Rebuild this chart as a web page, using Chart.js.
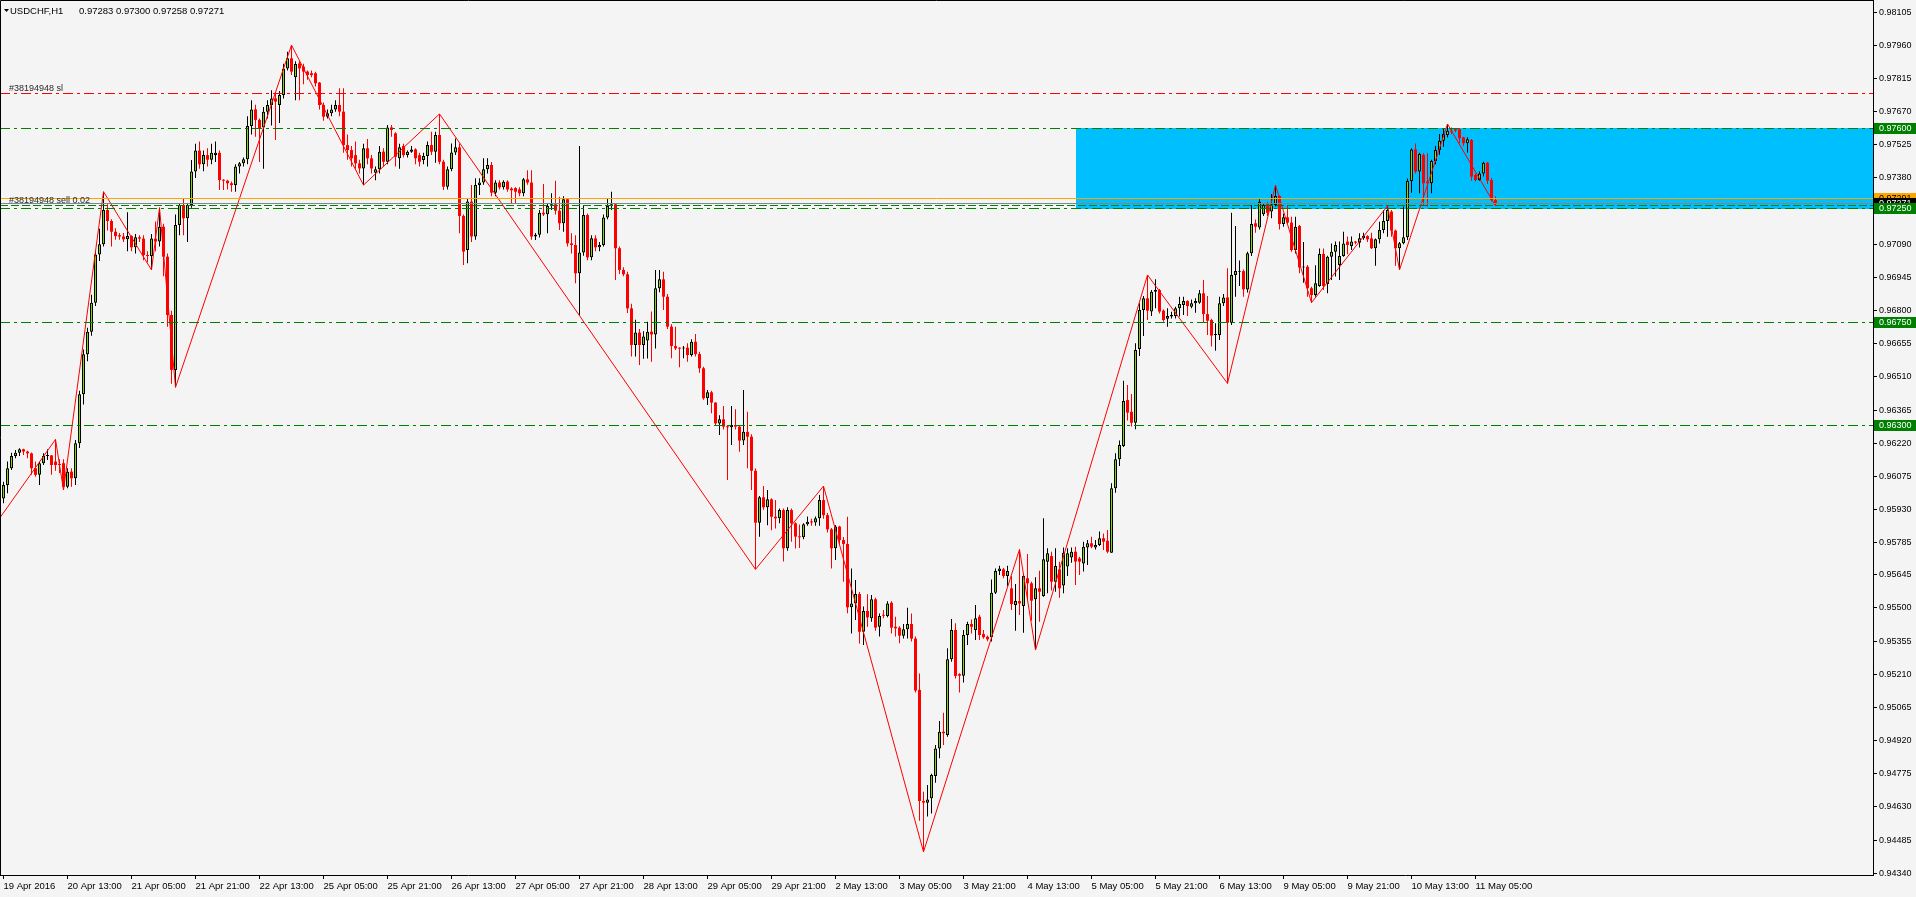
<!DOCTYPE html>
<html><head><meta charset="utf-8">
<script src="https://cdn.jsdelivr.net/npm/chart.js@4.4.0/dist/chart.umd.min.js"></script>
<style>html,body{margin:0;padding:0;background:#f4f4f4;overflow:hidden}canvas{display:block}</style>
</head><body>
<canvas id="c" width="1916" height="897" style="width:1916px;height:897px"></canvas>
<script>
const symbolTitle = 'USDCHF,H1';
const lastBarOHLC = '0.97283 0.97300 0.97258 0.97271';

const openPrices = [
0.95979,0.96038,0.96111,0.96165,0.96179,0.96194,0.96184,0.96176,0.96111,0.96082,
0.96133,0.96165,0.96167,0.96140,0.96130,0.96133,0.96030,0.96096,0.96067,0.96220,
0.96434,0.96609,0.96708,0.96835,0.97046,0.97090,0.97240,0.97192,0.97145,0.97130,
0.97124,0.97112,0.97126,0.97077,0.97121,0.97115,0.97043,0.97039,0.97115,0.97102,
0.97167,0.97036,0.96781,0.96541,0.97175,0.97262,0.97204,0.97262,0.97408,0.97500,
0.97440,0.97480,0.97460,0.97480,0.97490,0.97371,0.97368,0.97357,0.97349,0.97430,
0.97444,0.97462,0.97607,0.97680,0.97634,0.97601,0.97670,0.97699,0.97728,0.97699,
0.97743,0.97859,0.97903,0.97820,0.97881,0.97867,0.97845,0.97838,0.97838,0.97797,
0.97699,0.97648,0.97663,0.97680,0.97699,0.97670,0.97524,0.97502,0.97480,0.97444,
0.97422,0.97510,0.97466,0.97403,0.97418,0.97495,0.97451,0.97601,0.97575,0.97466,
0.97520,0.97480,0.97495,0.97505,0.97480,0.97459,0.97476,0.97524,0.97495,0.97568,
0.97451,0.97342,0.97418,0.97491,0.97514,0.97214,0.97065,0.97277,0.97124,0.97349,
0.97360,0.97418,0.97437,0.97316,0.97360,0.97339,0.97364,0.97334,0.97336,0.97330,
0.97313,0.97374,0.97360,0.97124,0.97132,0.97228,0.97221,0.97258,0.97265,0.97237,
0.97182,0.97287,0.97094,0.97087,0.96963,0.97054,0.97218,0.97033,0.97116,0.97077,
0.97087,0.97207,0.97258,0.97265,0.97073,0.96978,0.96959,0.96810,0.96650,0.96704,
0.96650,0.96669,0.96708,0.96696,0.96898,0.96937,0.96861,0.96730,0.96645,0.96635,
0.96634,0.96638,0.96606,0.96664,0.96610,0.96548,0.96417,0.96443,0.96398,0.96307,
0.96325,0.96293,0.96290,0.96300,0.96293,0.96232,0.96270,0.96249,0.96100,0.95873,
0.95984,0.95940,0.95975,0.95899,0.95892,0.95928,0.95761,0.95928,0.95870,0.95812,
0.95809,0.95866,0.95877,0.95874,0.95892,0.95972,0.95906,0.95844,0.95761,0.95856,
0.95797,0.95780,0.95503,0.95520,0.95561,0.95396,0.95487,0.95455,0.95538,0.95418,
0.95469,0.95465,0.95523,0.95418,0.95414,0.95379,0.95407,0.95430,0.95366,0.95142,
0.94656,0.94649,0.94668,0.94765,0.94886,0.94959,0.94945,0.95276,0.95404,0.95211,
0.95204,0.95382,0.95430,0.95404,0.95462,0.95386,0.95374,0.95372,0.95567,0.95662,
0.95669,0.95640,0.95586,0.95513,0.95530,0.95509,0.95630,0.95608,0.95538,0.95586,
0.95552,0.95702,0.95727,0.95615,0.95669,0.95598,0.95681,0.95721,0.95746,0.95717,
0.95695,0.95765,0.95783,0.95765,0.95775,0.95805,0.95794,0.95742,0.96023,0.96150,
0.96208,0.96409,0.96358,0.96310,0.96632,0.96803,0.96854,0.96796,0.96883,0.96890,
0.96800,0.96765,0.96774,0.96777,0.96810,0.96825,0.96842,0.96817,0.96832,0.96835,
0.96876,0.96785,0.96759,0.96694,0.96694,0.96832,0.96858,0.96747,0.96956,0.96970,
0.96973,0.96893,0.97051,0.97182,0.97164,0.97221,0.97269,0.97233,0.97262,0.97301,
0.97179,0.97208,0.97185,0.97065,0.97170,0.96989,0.96992,0.96898,0.96868,0.96908,
0.97048,0.96917,0.97036,0.97058,0.97000,0.97039,0.97102,0.97083,0.97102,0.97097,
0.97116,0.97126,0.97116,0.97073,0.97112,0.97153,0.97192,0.97233,0.97150,0.97073,
0.97095,0.97121,0.97367,0.97505,0.97408,0.97481,0.97364,0.97357,0.97454,0.97502,
0.97543,0.97568,0.97587,0.97593,0.97593,0.97558,0.97532,0.97546,0.97393,0.97371,
0.97400,0.97447,0.97371,0.97283];

const highPrices = [
0.96052,0.96140,0.96179,0.96191,0.96198,0.96196,0.96188,0.96180,0.96140,0.96140,
0.96176,0.96194,0.96169,0.96237,0.96150,0.96150,0.96111,0.96111,0.96235,0.96450,
0.96630,0.96725,0.96870,0.97063,0.97158,0.97320,0.97265,0.97200,0.97160,0.97140,
0.97140,0.97230,0.97130,0.97135,0.97130,0.97130,0.97060,0.97135,0.97190,0.97250,
0.97180,0.97050,0.96800,0.97220,0.97270,0.97290,0.97270,0.97459,0.97530,0.97540,
0.97500,0.97510,0.97530,0.97540,0.97500,0.97375,0.97372,0.97365,0.97440,0.97450,
0.97470,0.97650,0.97720,0.97700,0.97640,0.97690,0.97720,0.97764,0.97750,0.97760,
0.97880,0.97932,0.97961,0.97890,0.97890,0.97880,0.97850,0.97850,0.97845,0.97800,
0.97710,0.97680,0.97700,0.97720,0.97772,0.97772,0.97570,0.97520,0.97540,0.97460,
0.97530,0.97550,0.97480,0.97430,0.97520,0.97510,0.97612,0.97612,0.97580,0.97530,
0.97530,0.97500,0.97520,0.97510,0.97490,0.97490,0.97540,0.97582,0.97582,0.97660,
0.97460,0.97430,0.97531,0.97553,0.97531,0.97220,0.97290,0.97349,0.97379,0.97379,
0.97466,0.97466,0.97450,0.97370,0.97370,0.97370,0.97370,0.97340,0.97340,0.97340,
0.97380,0.97414,0.97414,0.97140,0.97240,0.97354,0.97270,0.97313,0.97368,0.97298,
0.97300,0.97290,0.97138,0.97130,0.97520,0.97262,0.97225,0.97130,0.97130,0.97100,
0.97220,0.97291,0.97320,0.97270,0.97080,0.96990,0.96970,0.96830,0.96760,0.96720,
0.96710,0.96752,0.96796,0.96978,0.96978,0.96970,0.96873,0.96740,0.96730,0.96640,
0.96645,0.96657,0.96675,0.96698,0.96620,0.96555,0.96453,0.96450,0.96400,0.96343,
0.96383,0.96300,0.96383,0.96369,0.96300,0.96453,0.96358,0.96260,0.96110,0.95990,
0.96033,0.96016,0.95980,0.95972,0.95935,0.95935,0.95940,0.95935,0.95875,0.95865,
0.95870,0.95900,0.95890,0.95900,0.95994,0.96033,0.95915,0.95850,0.95863,0.95860,
0.95810,0.95899,0.95673,0.95622,0.95570,0.95506,0.95560,0.95557,0.95545,0.95476,
0.95491,0.95530,0.95530,0.95462,0.95420,0.95430,0.95501,0.95476,0.95375,0.95214,
0.94697,0.94726,0.94775,0.94901,0.95006,0.95042,0.95324,0.95452,0.95433,0.95215,
0.95404,0.95440,0.95450,0.95513,0.95470,0.95404,0.95380,0.95625,0.95673,0.95685,
0.95675,0.95685,0.95640,0.95605,0.95756,0.95650,0.95736,0.95615,0.95634,0.95663,
0.95892,0.95761,0.95746,0.95761,0.95702,0.95764,0.95761,0.95765,0.95768,0.95724,
0.95790,0.95797,0.95812,0.95797,0.95834,0.95826,0.95841,0.96045,0.96176,0.96232,
0.96494,0.96475,0.96436,0.96657,0.96832,0.96864,0.96956,0.96890,0.96937,0.96895,
0.96805,0.96810,0.96795,0.96817,0.96861,0.96861,0.96845,0.96849,0.96854,0.96890,
0.96934,0.96864,0.96765,0.96745,0.96861,0.96873,0.96985,0.97228,0.97170,0.97019,
0.96980,0.97058,0.97262,0.97199,0.97287,0.97269,0.97275,0.97310,0.97349,0.97305,
0.97225,0.97262,0.97211,0.97211,0.97175,0.97100,0.97000,0.96905,0.96999,0.97072,
0.97072,0.97040,0.97094,0.97102,0.97102,0.97145,0.97124,0.97124,0.97105,0.97138,
0.97141,0.97130,0.97141,0.97115,0.97189,0.97240,0.97258,0.97240,0.97155,0.97100,
0.97255,0.97378,0.97510,0.97531,0.97490,0.97488,0.97488,0.97460,0.97520,0.97572,
0.97597,0.97616,0.97601,0.97598,0.97598,0.97560,0.97558,0.97550,0.97400,0.97410,
0.97451,0.97450,0.97380,0.97300];

const lowPrices = [
0.95958,0.96002,0.96103,0.96155,0.96165,0.96169,0.96155,0.96082,0.96074,0.96038,
0.96125,0.96147,0.96082,0.96100,0.96090,0.96016,0.96023,0.96030,0.96038,0.96199,
0.96390,0.96579,0.96690,0.96820,0.97017,0.97080,0.97150,0.97080,0.97110,0.97110,
0.97100,0.97060,0.97060,0.97050,0.97100,0.97020,0.97010,0.96978,0.97060,0.97080,
0.96950,0.96730,0.96480,0.96465,0.97130,0.97130,0.97100,0.97250,0.97380,0.97420,
0.97410,0.97430,0.97440,0.97450,0.97327,0.97327,0.97330,0.97320,0.97320,0.97400,
0.97430,0.97440,0.97570,0.97560,0.97450,0.97420,0.97640,0.97610,0.97546,0.97620,
0.97728,0.97850,0.97830,0.97720,0.97720,0.97790,0.97810,0.97820,0.97780,0.97680,
0.97630,0.97640,0.97650,0.97670,0.97650,0.97490,0.97460,0.97430,0.97420,0.97400,
0.97349,0.97440,0.97400,0.97370,0.97400,0.97430,0.97440,0.97560,0.97430,0.97420,
0.97470,0.97470,0.97490,0.97440,0.97430,0.97440,0.97430,0.97480,0.97447,0.97440,
0.97327,0.97330,0.97410,0.97480,0.97138,0.97000,0.97007,0.97100,0.97110,0.97306,
0.97350,0.97400,0.97300,0.97300,0.97330,0.97330,0.97320,0.97267,0.97267,0.97300,
0.97300,0.97350,0.97110,0.97109,0.97120,0.97214,0.97138,0.97240,0.97220,0.97153,
0.97145,0.97080,0.97050,0.96920,0.96781,0.97040,0.97020,0.97020,0.97060,0.97060,
0.97080,0.97200,0.97240,0.96934,0.96960,0.96950,0.96790,0.96599,0.96600,0.96562,
0.96590,0.96591,0.96577,0.96635,0.96880,0.96803,0.96720,0.96592,0.96628,0.96552,
0.96592,0.96577,0.96600,0.96600,0.96529,0.96410,0.96388,0.96351,0.96300,0.96256,
0.96280,0.96060,0.96213,0.96280,0.96183,0.96213,0.96111,0.96016,0.95669,0.95812,
0.95930,0.95862,0.95840,0.95848,0.95870,0.95703,0.95750,0.95790,0.95760,0.95762,
0.95800,0.95860,0.95860,0.95860,0.95860,0.95890,0.95830,0.95673,0.95710,0.95780,
0.95615,0.95477,0.95389,0.95447,0.95345,0.95338,0.95418,0.95440,0.95400,0.95375,
0.95455,0.95460,0.95389,0.95375,0.95346,0.95367,0.95367,0.95353,0.95130,0.94570,
0.94434,0.94588,0.94602,0.94736,0.94843,0.94901,0.94937,0.95265,0.95192,0.95130,
0.95174,0.95338,0.95389,0.95360,0.95360,0.95366,0.95355,0.95353,0.95561,0.95644,
0.95630,0.95596,0.95491,0.95401,0.95469,0.95392,0.95535,0.95444,0.95316,0.95440,
0.95549,0.95564,0.95576,0.95571,0.95545,0.95564,0.95640,0.95698,0.95601,0.95644,
0.95659,0.95688,0.95761,0.95756,0.95771,0.95754,0.95739,0.95742,0.96004,0.96121,
0.96204,0.96320,0.96293,0.96281,0.96602,0.96689,0.96759,0.96777,0.96810,0.96788,
0.96752,0.96730,0.96766,0.96766,0.96774,0.96781,0.96777,0.96810,0.96791,0.96830,
0.96748,0.96693,0.96643,0.96625,0.96672,0.96820,0.96482,0.96737,0.96861,0.96908,
0.96861,0.96879,0.97039,0.97141,0.97155,0.97214,0.97214,0.97204,0.97255,0.97155,
0.97167,0.97176,0.97058,0.97050,0.96963,0.96922,0.96861,0.96835,0.96861,0.96905,
0.96890,0.96876,0.96934,0.96949,0.96934,0.97036,0.97047,0.97065,0.97090,0.97076,
0.97110,0.97100,0.97069,0.96996,0.97094,0.97138,0.97123,0.97123,0.96996,0.96978,
0.97090,0.97109,0.97316,0.97400,0.97313,0.97262,0.97255,0.97313,0.97440,0.97480,
0.97517,0.97557,0.97572,0.97580,0.97532,0.97520,0.97490,0.97368,0.97365,0.97368,
0.97386,0.97354,0.97277,0.97258];

const closePrices = [
0.96038,0.96111,0.96165,0.96179,0.96194,0.96184,0.96176,0.96111,0.96082,0.96133,
0.96165,0.96167,0.96125,0.96125,0.96125,0.96030,0.96096,0.96067,0.96220,0.96434,
0.96609,0.96708,0.96835,0.97046,0.97090,0.97240,0.97192,0.97145,0.97126,0.97124,
0.97112,0.97126,0.97077,0.97121,0.97115,0.97043,0.97039,0.97115,0.97102,0.97167,
0.97036,0.96781,0.96541,0.97175,0.97262,0.97204,0.97262,0.97408,0.97500,0.97440,
0.97480,0.97460,0.97490,0.97490,0.97371,0.97368,0.97357,0.97349,0.97430,0.97444,
0.97462,0.97607,0.97680,0.97634,0.97597,0.97670,0.97699,0.97728,0.97714,0.97743,
0.97859,0.97903,0.97845,0.97878,0.97859,0.97845,0.97830,0.97830,0.97794,0.97699,
0.97648,0.97663,0.97680,0.97699,0.97670,0.97524,0.97502,0.97466,0.97444,0.97422,
0.97510,0.97466,0.97422,0.97418,0.97495,0.97451,0.97601,0.97590,0.97473,0.97514,
0.97480,0.97495,0.97505,0.97466,0.97451,0.97476,0.97524,0.97495,0.97568,0.97451,
0.97342,0.97418,0.97491,0.97514,0.97214,0.97058,0.97277,0.97124,0.97349,0.97360,
0.97418,0.97437,0.97316,0.97360,0.97339,0.97364,0.97330,0.97326,0.97320,0.97313,
0.97374,0.97360,0.97124,0.97132,0.97228,0.97221,0.97258,0.97265,0.97237,0.97182,
0.97287,0.97094,0.97087,0.96963,0.97054,0.97218,0.97033,0.97116,0.97077,0.97087,
0.97207,0.97258,0.97265,0.97073,0.96978,0.96959,0.96810,0.96650,0.96704,0.96650,
0.96687,0.96708,0.96696,0.96898,0.96937,0.96861,0.96730,0.96645,0.96635,0.96634,
0.96638,0.96606,0.96664,0.96610,0.96548,0.96417,0.96443,0.96398,0.96307,0.96325,
0.96293,0.96290,0.96300,0.96293,0.96232,0.96270,0.96249,0.96100,0.95873,0.95984,
0.95940,0.95975,0.95899,0.95892,0.95928,0.95761,0.95928,0.95870,0.95812,0.95809,
0.95866,0.95877,0.95874,0.95892,0.95972,0.95906,0.95844,0.95761,0.95856,0.95797,
0.95780,0.95503,0.95520,0.95561,0.95396,0.95487,0.95459,0.95538,0.95414,0.95465,
0.95466,0.95520,0.95414,0.95411,0.95379,0.95407,0.95430,0.95366,0.95139,0.94656,
0.94649,0.94663,0.94770,0.94886,0.94959,0.94952,0.95276,0.95404,0.95203,0.95204,
0.95382,0.95430,0.95418,0.95455,0.95382,0.95372,0.95363,0.95567,0.95662,0.95673,
0.95640,0.95662,0.95517,0.95531,0.95520,0.95640,0.95608,0.95532,0.95586,0.95571,
0.95713,0.95739,0.95615,0.95684,0.95586,0.95742,0.95739,0.95746,0.95703,0.95703,
0.95768,0.95783,0.95768,0.95775,0.95805,0.95790,0.95746,0.96023,0.96150,0.96213,
0.96405,0.96354,0.96310,0.96628,0.96803,0.96854,0.96800,0.96883,0.96890,0.96796,
0.96759,0.96777,0.96781,0.96810,0.96829,0.96842,0.96820,0.96832,0.96842,0.96876,
0.96785,0.96756,0.96691,0.96698,0.96832,0.96858,0.96747,0.96956,0.96973,0.96973,
0.96893,0.97051,0.97179,0.97167,0.97276,0.97262,0.97228,0.97265,0.97301,0.97179,
0.97208,0.97185,0.97065,0.97167,0.96989,0.96992,0.96898,0.96868,0.96920,0.97048,
0.96908,0.97036,0.97058,0.97087,0.97039,0.97094,0.97087,0.97102,0.97097,0.97116,
0.97126,0.97112,0.97073,0.97112,0.97153,0.97192,0.97240,0.97150,0.97073,0.97095,
0.97121,0.97367,0.97505,0.97408,0.97485,0.97357,0.97357,0.97454,0.97502,0.97543,
0.97572,0.97587,0.97583,0.97587,0.97553,0.97532,0.97549,0.97386,0.97371,0.97400,
0.97447,0.97368,0.97284,0.97271];

const xTickBars = [0,16,32,48,64,80,96,112,128,144,160,176,192,208,224,240,256,272,288,304,320,336,352,368];
const xTickLabels = ['19 Apr 2016','20 Apr 13:00','21 Apr 05:00','21 Apr 21:00','22 Apr 13:00','25 Apr 05:00','25 Apr 21:00','26 Apr 13:00','27 Apr 05:00','27 Apr 21:00','28 Apr 13:00','29 Apr 05:00','29 Apr 21:00','2 May 13:00','3 May 05:00','3 May 21:00','4 May 13:00','5 May 05:00','5 May 21:00','6 May 13:00','9 May 05:00','9 May 21:00','10 May 13:00','11 May 05:00'];
const yTickLabels = ['0.98105','0.97960','0.97815','0.97670','0.97525','0.97380','0.97235','0.97090','0.96945','0.96800','0.96655','0.96510','0.96365','0.96220','0.96075','0.95930','0.95785','0.95645','0.95500','0.95355','0.95210','0.95065','0.94920','0.94775','0.94630','0.94485','0.94340'];

const zigzagBars = [-1,13,15,25,37,39,43,72,90,109,188,205,230,254,258,286,306,318,327,346,349,361,373];
const zigzagPrices = [0.95892,0.96237,0.96016,0.97320,0.96978,0.97250,0.96465,0.97961,0.97349,0.97660,0.95669,0.96033,0.94434,0.95756,0.95316,0.96956,0.96482,0.97349,0.96835,0.97258,0.96978,0.97616,0.97258];

const levelPrices = [0.97600, 0.97250, 0.96750, 0.96300];
const slPrice = 0.97750, slLabel = '#38194948 sl';
const orderPrice = 0.97262, orderLabel = '#38194948 sell 0.02';
const bidPrice = 0.97271, askPrice = 0.97291;
const zoneTop = 0.97600, zoneBottom = 0.97250, zoneStartBar = 268;

const priceMax = 0.981582, priceMin = 0.943326;
const barMin = -0.875, barMax = 467.375;

const BULL = '#80d800', BEAR = '#ff0000', GREEN = '#008000', RED = '#ff0000';
const FONT = "'Liberation Sans', 'DejaVu Sans', Arial, sans-serif";

const idx = closePrices.map((_, i) => i);
const isBull = idx.map(i => closePrices[i] >= openPrices[i]);

function hline(ctx, area, y, color, dash) {
  const yy = Math.round(y) + 0.5;
  ctx.save();
  ctx.strokeStyle = color; ctx.lineWidth = 1; ctx.setLineDash(dash);
  ctx.beginPath(); ctx.moveTo(area.left, yy); ctx.lineTo(area.right, yy); ctx.stroke();
  ctx.restore();
}
function axisBox(ctx, y, fill, textColor, label) {
  const top = Math.round(y) - 5;
  ctx.fillStyle = fill; ctx.fillRect(1874, top, 42, 11);
  ctx.fillStyle = textColor; ctx.font = '9px ' + FONT;
  ctx.textAlign = 'left'; ctx.textBaseline = 'middle';
  ctx.fillText(label, 1879, top + 5.5);
}

const mt4Plugin = {
  id: 'mt4',
  beforeDraw(chart) {
    const ctx = chart.ctx;
    ctx.save(); ctx.fillStyle = '#f4f4f4'; ctx.fillRect(0, 0, chart.width, chart.height); ctx.restore();
  },
  beforeDatasetsDraw(chart) {
    const ctx = chart.ctx, a = chart.chartArea, xs = chart.scales.x, ys = chart.scales.y;
    const x0 = Math.round(xs.getPixelForValue(zoneStartBar));
    const y0 = Math.round(ys.getPixelForValue(zoneTop));
    const y1 = Math.round(ys.getPixelForValue(zoneBottom));
    ctx.save(); ctx.fillStyle = '#00bfff'; ctx.fillRect(x0, y0, a.right - x0, y1 - y0 + 1); ctx.restore();
  },
  afterDatasetsDraw(chart) {
    const ctx = chart.ctx, a = chart.chartArea, ys = chart.scales.y;
    levelPrices.forEach(p => hline(ctx, a, ys.getPixelForValue(p), GREEN, [10, 4, 3, 4]));
    hline(ctx, a, ys.getPixelForValue(slPrice), RED, [10, 4, 3, 4]);
    hline(ctx, a, ys.getPixelForValue(orderPrice), GREEN, [8, 3]);
    hline(ctx, a, ys.getPixelForValue(askPrice), '#ffa500', []);
    hline(ctx, a, ys.getPixelForValue(bidPrice), '#778899', []);
    ctx.save();
    ctx.font = '9px ' + FONT; ctx.fillStyle = '#2a2a2a'; ctx.textAlign = 'left'; ctx.textBaseline = 'alphabetic';
    ctx.fillText(slLabel, 9, Math.round(ys.getPixelForValue(slPrice)) - 2);
    ctx.fillText(orderLabel, 9, Math.round(ys.getPixelForValue(orderPrice)) - 2);
    ctx.restore();
  },
  afterDraw(chart) {
    const ctx = chart.ctx, a = chart.chartArea, ys = chart.scales.y;
    ctx.save();
    axisBox(ctx, ys.getPixelForValue(askPrice), '#ffa500', '#000000', askPrice.toFixed(5));
    axisBox(ctx, ys.getPixelForValue(bidPrice), '#000000', '#ffffff', bidPrice.toFixed(5));
    levelPrices.forEach(p => axisBox(ctx, ys.getPixelForValue(p), GREEN, '#ffffff', p.toFixed(5)));
    ctx.strokeStyle = '#000'; ctx.lineWidth = 1; ctx.setLineDash([]);
    ctx.beginPath();
    ctx.moveTo(0.5, a.bottom); ctx.lineTo(0.5, 0.5); ctx.lineTo(a.right, 0.5);
    ctx.stroke();
    ctx.fillStyle = '#000';
    ctx.beginPath(); ctx.moveTo(4, 9); ctx.lineTo(9, 9); ctx.lineTo(6.5, 12); ctx.closePath(); ctx.fill();
    ctx.font = '9.5px ' + FONT; ctx.textAlign = 'left'; ctx.textBaseline = 'alphabetic';
    ctx.fillText(symbolTitle, 10, 13.5);
    ctx.fillText(lastBarOHLC, 79, 13.5);
    ctx.restore();
  }
};

new Chart(document.getElementById('c'), {
  type: 'bar',
  data: {
    datasets: [
      {
        type: 'line', label: 'ZigZag', order: 0,
        data: zigzagBars.map((b, i) => ({ x: b, y: zigzagPrices[i] })),
        borderColor: RED, borderWidth: 1, pointRadius: 0, tension: 0, fill: false
      },
      {
        label: 'Body', order: 1,
        data: idx.map(i => ({ x: i, y: [openPrices[i], closePrices[i]] })),
        backgroundColor: idx.map(i => isBull[i] ? BULL : BEAR),
        borderColor: idx.map(i => isBull[i] ? '#000000' : BEAR),
        borderWidth: idx.map(i => isBull[i] ? 1 : 0),
        borderSkipped: false, barThickness: 3, minBarLength: 1, inflateAmount: 0
      },
      {
        label: 'Wick', order: 2,
        data: idx.map(i => ({ x: i, y: [lowPrices[i], highPrices[i]] })),
        backgroundColor: idx.map(i => isBull[i] ? '#000000' : BEAR),
        borderWidth: 0, barThickness: 1, inflateAmount: 0
      }
    ]
  },
  options: {
    responsive: false, animation: false, devicePixelRatio: 1, events: [],
    layout: { padding: 0 },
    datasets: { bar: { grouped: false } },
    plugins: { legend: { display: false }, tooltip: { enabled: false }, title: { display: false } },
    scales: {
      x: {
        type: 'linear', position: 'bottom', min: barMin, max: barMax, bounds: 'data', offset: false,
        afterBuildTicks: s => { s.ticks = xTickBars.map(v => ({ value: v })); },
        afterFit: s => { s.height = 22; s.paddingLeft = 0; s.paddingRight = 0; },
        ticks: {
          autoSkip: false, maxRotation: 0, minRotation: 0, align: 'start', padding: 2,
          color: '#000', font: { family: FONT, size: 9.5 },
          callback: v => { const k = xTickBars.indexOf(v); return k >= 0 ? xTickLabels[k] : ''; }
        },
        grid: { offset: false, drawOnChartArea: false, drawTicks: true, tickLength: 4, color: '#000' },
        border: { display: true, color: '#000', width: 1 }
      },
      y: {
        type: 'linear', position: 'right', min: priceMin, max: priceMax, bounds: 'data',
        afterBuildTicks: s => { s.ticks = yTickLabels.map(l => ({ value: parseFloat(l) })); },
        afterFit: s => { s.width = 43; s.paddingTop = 0; s.paddingBottom = 0; },
        ticks: {
          autoSkip: false, padding: 2, color: '#000', font: { family: FONT, size: 9 },
          callback: v => yTickLabels.find(l => Math.abs(parseFloat(l) - v) < 1e-7) || ''
        },
        grid: { drawOnChartArea: false, drawTicks: true, tickLength: 4, color: '#000' },
        border: { display: true, color: '#000', width: 1 }
      }
    }
  },
  plugins: [mt4Plugin]
});
</script>
</body></html>
